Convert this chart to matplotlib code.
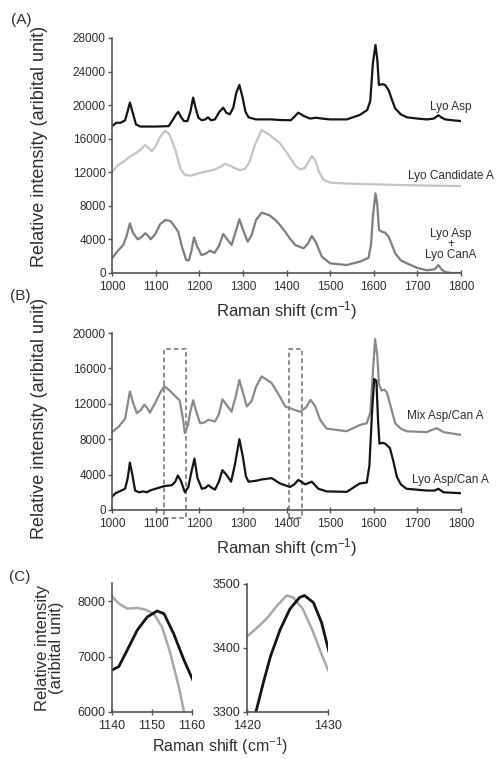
import matplotlib
matplotlib.use("Agg")
import matplotlib.pyplot as plt
from matplotlib.patches import Rectangle

plt.rcParams['font.family'] = ['Liberation Sans', 'DejaVu Sans']
plt.rcParams['mathtext.default'] = 'regular'

ink = "#151515"
txt = "#2e2e2e"

# ---- panel A : single spectra ----
asp_x = [1000, 1010, 1020, 1030, 1036, 1041, 1047, 1055, 1065, 1100, 1130, 1140, 1147, 1152, 1158, 1165,
         1173, 1180, 1186, 1192, 1198, 1206, 1214, 1220, 1227, 1236, 1246, 1255, 1262, 1270, 1278, 1285,
         1292, 1299, 1306, 1313, 1330, 1366, 1385, 1410, 1427, 1440, 1454, 1468, 1481, 1500, 1538, 1568,
         1585, 1592, 1598, 1604, 1608, 1612, 1620, 1626, 1634, 1642, 1649, 1662, 1676, 1700, 1722, 1738,
         1748, 1756, 1764, 1780, 1800]
asp_y = [17500, 17900, 17900, 18200, 19300, 20300, 19200, 17700, 17450, 17450, 17500, 18300, 18900, 19200,
         18600, 18100, 18100, 19300, 20900, 19600, 18500, 18200, 18300, 18550, 18200, 18300, 19200, 19700,
         19100, 18900, 19700, 21500, 22400, 21000, 19200, 18550, 18300, 18300, 18230, 18200, 19100, 18700,
         18400, 18500, 18400, 18300, 18300, 18830, 19420, 20500, 24980, 27170, 25500, 22400, 22500, 22400,
         21800, 20600, 19620, 18900, 18550, 18400, 18300, 18400, 18800, 18500, 18300, 18200, 18100]

cana_x = [1000, 1015, 1030, 1041, 1055, 1066, 1076, 1084, 1091, 1100, 1110, 1122, 1132, 1145, 1157,
          1167, 1182, 1200, 1213, 1235, 1250, 1259, 1270, 1285, 1294, 1305, 1315, 1327, 1343, 1360,
          1385, 1400, 1420, 1431, 1442, 1451, 1458, 1466, 1475, 1485, 1500, 1540, 1577, 1650, 1720, 1800]
cana_y = [12070, 12900, 13400, 13860, 14300, 14700, 15250, 14900, 14500, 15100, 16200, 16960, 16500, 14700,
          12400, 11680, 11600, 11900, 12070, 12300, 12700, 12990, 12800, 12400, 12270, 12400, 13200, 15200,
          17040, 16500, 15450, 14400, 12800, 12350, 12500, 13300, 13940, 13400, 12000, 11100, 10760, 10650,
          10600, 10500, 10420, 10370]

mixA_x = [1000, 1008, 1015, 1026, 1034, 1041, 1048, 1059, 1068, 1076, 1082, 1089, 1100, 1110, 1122, 1134,
          1144, 1152, 1160, 1170, 1176, 1182, 1188, 1195, 1205, 1215, 1224, 1235, 1245, 1255, 1263, 1274,
          1284, 1292, 1300, 1311, 1320, 1330, 1343, 1360, 1375, 1385, 1397, 1408, 1420, 1439, 1449, 1458,
          1467, 1481, 1500, 1538, 1568, 1588, 1594, 1598, 1604, 1608, 1612, 1620, 1626, 1634, 1642, 1649,
          1662, 1676, 1700, 1722, 1740, 1748, 1756, 1764, 1780, 1800]
mixA_y = [1750, 2300, 2740, 3340, 4500, 5920, 4800, 4010, 4300, 4730, 4500, 4010, 4700, 5800, 6310, 6200,
          5520, 4900, 3200, 1550, 1500, 2600, 4250, 3200, 2140, 2300, 2660, 2400, 3200, 4650, 4100, 3340,
          5000, 6400, 5200, 3730, 4500, 6300, 7190, 6900, 6300, 5720, 4900, 4100, 3340, 2940, 3500, 4410,
          3700, 1940, 1150, 950, 1350, 1800, 3500, 6710, 9490, 8200, 5120, 4900, 4800, 4330, 3300, 2350,
          1500, 1150, 600, 320, 450, 950, 400, 100, 0, 0]

# ---- panel B : mixtures ----
mixB_x = [1000, 1015, 1030, 1041, 1049, 1057, 1066, 1074, 1081, 1087, 1100, 1112, 1120, 1132, 1144, 1155,
          1162, 1167, 1174, 1180, 1186, 1194, 1202, 1212, 1221, 1236, 1245, 1253, 1264, 1274, 1284, 1292,
          1300, 1309, 1320, 1330, 1343, 1366, 1385, 1397, 1408, 1431, 1445, 1455, 1465, 1477, 1492, 1538,
          1568, 1584, 1592, 1596, 1603, 1608, 1612, 1618, 1624, 1630, 1640, 1649, 1662, 1675, 1721, 1744,
          1760, 1798]
mixB_y = [8800, 9400, 10300, 13400, 12000, 10950, 11300, 11900, 11500, 11000, 12200, 13400, 14000, 13500,
          12900, 12400, 10500, 8700, 9600, 11200, 12400, 11000, 9800, 9900, 10200, 10000, 10800, 12500,
          11800, 11100, 12900, 14700, 13300, 11700, 12300, 13900, 15100, 14350, 12800, 11700, 11500, 11100,
          11600, 12450, 11800, 10200, 9200, 8900, 9600, 9800, 11000, 14000, 19300, 17500, 14200, 13500,
          13600, 13300, 11500, 9800, 9200, 8900, 8800, 9250, 8800, 8500]

lyoB_x = [1000, 1008, 1015, 1030, 1036, 1041, 1047, 1053, 1062, 1072, 1080, 1087, 1100, 1120, 1137, 1145,
          1151, 1158, 1167, 1175, 1182, 1189, 1196, 1206, 1214, 1221, 1229, 1236, 1245, 1253, 1262, 1273,
          1282, 1292, 1300, 1307, 1313, 1330, 1343, 1366, 1385, 1408, 1418, 1427, 1443, 1458, 1473, 1492,
          1538, 1568, 1584, 1590, 1596, 1601, 1606, 1610, 1613, 1620, 1626, 1637, 1645, 1653, 1662, 1675,
          1721, 1740, 1748, 1760, 1798]
lyoB_y = [1500, 1900, 2050, 2400, 3600, 5350, 3900, 2200, 2000, 2100, 2000, 2200, 2400, 2700, 2800, 3200,
          3900, 3300, 2000, 2600, 4300, 5800, 3600, 2400, 2500, 2800, 2500, 2300, 3200, 4500, 4000, 3200,
          5200, 8000, 6000, 3800, 3200, 3300, 3450, 3600, 3000, 2600, 2900, 3400, 2900, 3200, 2400, 2100,
          2050, 3000, 3100, 5000, 11000, 14800, 14600, 10000, 7500, 7600, 7500, 7000, 5500, 3750, 2900,
          2400, 2200, 2200, 2400, 2000, 1900]

# dashed boxes (x from, x to)
box_x0 = [1120, 1406]
box_x1 = [1169, 1435]

# ---- panel C : zoom on the two bands ----
c1_blk_x = [1140, 1141.7, 1143.8, 1146.3, 1148.8, 1151.3, 1153, 1155.4, 1158, 1160.4]
c1_blk_y = [6757, 6820, 7117, 7477, 7717, 7825, 7775, 7417, 6937, 6546]
c1_gry_x = [1140, 1141.7, 1143.8, 1146.3, 1148.3, 1150.4, 1152.5, 1154.6, 1156.7, 1157.9, 1158.4]
c1_gry_y = [8090, 7958, 7868, 7880, 7850, 7778, 7537, 7057, 6456, 6036, 5850]

c2_blk_x = [1421.1, 1422.0, 1422.9, 1424.1, 1425.3, 1426.5, 1427.1, 1428.2, 1429.2, 1430.1]
c2_blk_y = [3300, 3345, 3387, 3429, 3461, 3479, 3482, 3471, 3440, 3395]
c2_gry_x = [1420, 1421.2, 1422.5, 1423.7, 1424.9, 1425.7, 1426.9, 1428.2, 1429.4, 1430.1]
c2_gry_y = [3418, 3431, 3447, 3466, 3482, 3479, 3461, 3424, 3384, 3363]

W, H = 501, 759
fig = plt.figure(figsize=(W / 100, H / 100), dpi=100)


def px_axes(x0, x1, y0, y1):
    # pixel box (left, right, top, bottom) -> axes
    return fig.add_axes([x0 / W, 1 - y1 / H, (x1 - x0) / W, (y1 - y0) / H])


def style(ax, fs=8.5):
    for s in ['top', 'right']:
        ax.spines[s].set_visible(False)
    for s in ['left', 'bottom']:
        ax.spines[s].set_color('#555555')
        ax.spines[s].set_linewidth(1.2)
    ax.tick_params(axis='y', direction='out', length=3, width=1, colors='#555555', labelcolor=txt,
                   labelsize=fs, pad=1.5)
    ax.tick_params(axis='x', direction='inout', length=5, width=1, colors='#555555', labelcolor=txt,
                   labelsize=fs, pad=3.5)


xlab = 'Raman shift (cm$^{-1}$)'
ylab = 'Relative intensity (aribital unit)'

# A
axA = px_axes(112, 461, 38, 273)
axA.plot(asp_x, asp_y, color=ink, lw=1.6)
axA.plot(cana_x, cana_y, color='#c4c4c4', lw=1.6)
axA.plot(mixA_x, mixA_y, color='#7e7e7e', lw=1.6)
axA.set_xlim(1000, 1800)
axA.set_ylim(0, 28000)
axA.set_xticks(range(1000, 1801, 100))
axA.set_yticks(range(0, 28001, 4000))
style(axA)
axA.set_xlabel(xlab, fontsize=12, color=txt, labelpad=4)
axA.set_ylabel(ylab, fontsize=13, color=txt)
axA.yaxis.set_label_coords(-0.183, 0.54)
axA.text(1777, 19800, 'Lyo Asp', fontsize=8.5, color=txt, ha='center', va='center')
axA.text(1777, 11560, 'Lyo Candidate A', fontsize=8.5, color=txt, ha='center', va='center', clip_on=False)
axA.text(1777, 3400, 'Lyo Asp\n+\nLyo CanA', fontsize=8.5, color=txt, ha='center', va='center',
         linespacing=0.85)

# B
axB = px_axes(112, 461, 333, 510)
axB.plot(mixB_x, mixB_y, color='#8a8a8a', lw=1.6)
axB.plot(lyoB_x, lyoB_y, color=ink, lw=1.6)
for a, b in zip(box_x0, box_x1):
    axB.add_patch(Rectangle((a, -900), b - a, 19100, fill=False, ec='#6f6f6f', lw=1.1,
                            ls=(0, (3, 2)), clip_on=False))
axB.set_xlim(1000, 1800)
axB.set_ylim(0, 20000)
axB.set_xticks(range(1000, 1801, 100))
axB.set_yticks(range(0, 20001, 4000))
style(axB)
axB.set_xlabel(xlab, fontsize=12, color=txt, labelpad=4)
axB.set_ylabel(ylab, fontsize=13, color=txt)
axB.yaxis.set_label_coords(-0.183, 0.52)
axB.text(1763, 10570, 'Mix Asp/Can A', fontsize=8.5, color=txt, ha='center', va='center', clip_on=False)
axB.text(1775, 3400, 'Lyo Asp/Can A', fontsize=8.5, color=txt, ha='center', va='center', clip_on=False)

# C left
axC1 = px_axes(112, 192, 583, 712)
axC1.plot(c1_gry_x, c1_gry_y, color='#a8a8a8', lw=1.8)
axC1.plot(c1_blk_x, c1_blk_y, color=ink, lw=2.0)
axC1.set_xlim(1140, 1160)
axC1.set_ylim(6000, 8330)
axC1.set_xticks([1140, 1150, 1160])
axC1.set_yticks([6000, 7000, 8000])
style(axC1, fs=9)
axC1.set_ylabel('Relative intensity\n(aribital unit)', fontsize=12, color=txt, linespacing=0.95)
axC1.yaxis.set_label_coords(-0.6, 0.5)

# C right
axC2 = px_axes(247, 328, 584, 712)
axC2.plot(c2_gry_x, c2_gry_y, color='#a8a8a8', lw=1.8)
axC2.plot(c2_blk_x, c2_blk_y, color=ink, lw=2.0)
axC2.set_xlim(1420, 1430)
axC2.set_ylim(3300, 3500)
axC2.set_xticks([1420, 1430])
axC2.set_yticks([3300, 3400, 3500])
style(axC2, fs=9)

fig.text(220 / W, 1 - 746 / H, xlab, fontsize=11.5, color=txt, ha='center', va='center')

fig.text(21 / W, 1 - 20 / H, '(A)', fontsize=11, color=txt, ha='center', va='center')
fig.text(20 / W, 1 - 296 / H, '(B)', fontsize=11, color=txt, ha='center', va='center')
fig.text(20 / W, 1 - 577 / H, '(C)', fontsize=11, color=txt, ha='center', va='center')

fig.savefig('out.png', dpi=100)
